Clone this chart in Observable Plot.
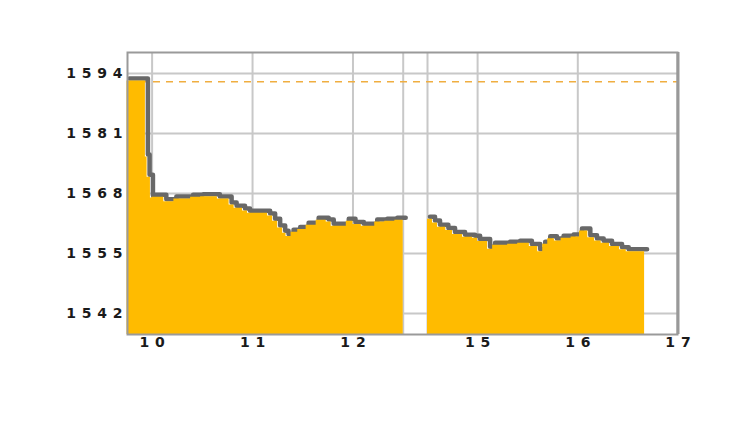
<!DOCTYPE html>
<html><head><meta charset="utf-8">
<script src="https://cdn.jsdelivr.net/npm/d3@7"></script>
<script src="https://cdn.jsdelivr.net/npm/@observablehq/plot@0.6"></script>
<style>body{margin:0;background:#fff}</style>
</head><body><div id="chart"></div>
<script>
// Morning session (step data)
const amTimes = ["9:45","9:56","9:57","9:59","10:00","10:07","10:13","10:23","10:29","10:39","10:46","10:49","10:54","10:57","11:09","11:12","11:15","11:18","11:20","11:23","11:27","11:32","11:38","11:44","11:47","11:56","12:00","12:05","12:13","12:19","12:25","12:30"];
const amValues = [1592.4,1575.9,1571.5,1567.0,1567.2,1566.2,1566.8,1567.2,1567.3,1566.8,1565.5,1564.8,1564.2,1563.7,1563.1,1562.0,1560.5,1559.4,1558.7,1559.6,1560.2,1561.1,1562.2,1561.8,1560.9,1562.0,1561.3,1560.9,1561.8,1562.0,1562.2,1562.2];
// Afternoon session
const pmTimes = ["14:30","14:33","14:36","14:41","14:45","14:51","14:57","15:00","15:06","15:09","15:18","15:24","15:31","15:36","15:39","15:42","15:46","15:50","15:56","16:01","16:06","16:10","16:14","16:19","16:25","16:29","16:40"];
const pmValues = [1562.4,1561.6,1560.7,1560.0,1559.1,1558.5,1558.3,1557.6,1555.9,1556.8,1557.0,1557.2,1556.5,1555.4,1557.0,1558.2,1557.7,1558.3,1558.6,1559.9,1558.4,1557.7,1557.2,1556.5,1555.8,1555.4,1555.4];
const prevClose = 1592.2;
const yTicks = [1542, 1555, 1568, 1581, 1594];
const xTickLabels = [10, 11, 12, 15, 16, 17];
const gridHours = [10, 11, 12, 12.5, 14.5, 15, 16];

const toHour = s => { const [h, m] = s.split(":").map(Number); return h + m / 60; };
const am = amTimes.map((t, i) => ({t: toHour(t), v: amValues[i]}));
const pm = pmTimes.map((t, i) => ({t: toHour(t), v: pmValues[i]}));
const yMin = 1537.45, yMax = 1598.55;

const lineOpts = {x: "t", y: "v", curve: "step-after", stroke: "#686868", strokeWidth: 4.5, dx: 2.5, dy: -2.5};
const areaOpts = {x: "t", y1: yMin, y2: "v", curve: "step-after", fill: "#FFBB00"};

const chart = Plot.plot({
  width: 750,
  height: 422,
  marginLeft: 127,
  marginRight: 73,
  marginTop: 52,
  marginBottom: 88,
  style: {fontFamily: "'DejaVu Sans', sans-serif", fontSize: "14px", fontWeight: "bold", color: "#1a1a1a", letterSpacing: "5.8px", background: "#fff"},
  x: {type: "linear", domain: [9.75, 12.5, 14.5, 17], range: [126.5, 402.7, 427, 677.5], label: null},
  y: {domain: [yMin, yMax], label: null},
  marks: [
    Plot.gridX(gridHours, {stroke: "#c8c8c8", strokeOpacity: 1, strokeWidth: 2}),
    Plot.gridY(yTicks, {stroke: "#c8c8c8", strokeOpacity: 1, strokeWidth: 2}),
    Plot.ruleY([prevClose], {stroke: "#F0AE40", strokeWidth: 1.5, strokeDasharray: "7,6"}),
    Plot.line(am, lineOpts),
    Plot.line(pm, lineOpts),
    Plot.areaY(am, areaOpts),
    Plot.areaY(pm, areaOpts),
    Plot.frame({stroke: "#9a9a9a", strokeWidth: 2}),
    Plot.ruleX([17], {stroke: "#999", strokeWidth: 3}),
    Plot.axisY(yTicks, {tickSize: 0, tickPadding: 5, dx: 5.8, label: null, tickFormat: d => String(d)}),
    Plot.axisX(xTickLabels, {tickSize: 0, tickPadding: 3, dx: 2.9, label: null, tickFormat: d => String(d)})
  ]
});
document.getElementById("chart").appendChild(chart);
</script>
</body></html>
